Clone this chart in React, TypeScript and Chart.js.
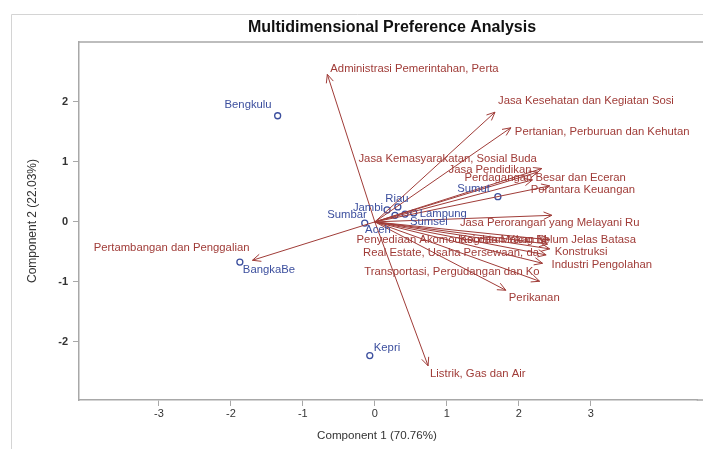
import React, { useEffect, useRef } from "react";
import { Chart, registerables } from "chart.js";

Chart.register(...registerables);

// ---- data ----
const provinceNames = ["Aceh", "Sumut", "Sumbar", "Riau", "Jambi", "Sumsel", "Bengkulu", "Lampung", "BangkaBe", "Kepri"];
const provinceX = [0.28, 1.71, -0.14, 0.32, 0.17, 0.42, -1.35, 0.54, -1.875, -0.07];
const provinceY = [0.11, 0.42, -0.02, 0.25, 0.2, 0.13, 1.77, 0.15, -0.67, -2.23];

const sectorNames = [
  "Administrasi Pemerintahan, Perta",
  "Jasa Kesehatan dan Kegiatan Sosi",
  "Pertanian, Perburuan dan Kehutan",
  "Jasa Kemasyarakatan, Sosial Buda",
  "Jasa Pendidikan",
  "Perdagangan Besar dan Eceran",
  "Perantara Keuangan",
  "Jasa Perorangan yang Melayani Ru",
  "Kegiatan Yang Belum Jelas Batasa",
  "Penyediaan Akomodasi dan Makan M",
  "Konstruksi",
  "Real Estate, Usaha Persewaan, da",
  "Industri Pengolahan",
  "Transportasi, Pergudangan dan Ko",
  "Perikanan",
  "Listrik, Gas dan Air",
  "Pertambangan dan Penggalian",
];
const sectorX = [-0.66, 1.67, 1.89, 2.32, 2.26, 2.19, 2.43, 2.46, 2.43, 2.4, 2.43, 2.38, 2.33, 2.29, 1.82, 0.74, -1.7];
const sectorY = [2.46, 1.83, 1.57, 0.89, 0.83, 0.7, 0.6, 0.11, -0.3, -0.37, -0.45, -0.55, -0.69, -0.99, -1.14, -2.4, -0.64];

const xTicks = [-3, -2, -1, 0, 1, 2, 3];
const yTicks = [-2, -1, 0, 1, 2];

// ---- label layout (pixel offsets from the mark) ----
type Place = [CanvasTextAlign, number, number];
const provinceLabelPlace: Place[] = [
  ["center", -17, 15],
  ["right", -8, -8],
  ["right", 2, -8],
  ["center", -1, -8],
  ["right", -4, -2],
  ["left", 5, 8],
  ["right", -6, -11],
  ["left", 6, 1],
  ["left", 3, 8],
  ["left", 4, -8],
];
const sectorLabelPlace: Place[] = [
  ["left", 3, -5],
  ["left", 3, -11],
  ["left", 4, 4],
  ["right", -5, -10],
  ["right", -6, -2],
  ["left", -68, -2],
  ["left", -19, 4],
  ["left", -92, 8],
  ["left", -90, 0],
  ["left", -191, -4],
  ["left", 5, 3],
  ["left", -183, -2],
  ["left", 9, 2],
  ["right", 0, -9],
  ["left", 3, 8],
  ["left", 2, 8],
  ["right", -3, -12],
];

const RED = "#A03C38";
const BLUE = "#3C4F9E";
const FONT = "'Liberation Sans', Arial, sans-serif";

const overlay = {
  id: "mdpOverlay",
  beforeDraw(chart: any) {
    const ctx = chart.ctx;
    ctx.save();
    ctx.fillStyle = "#fff";
    ctx.fillRect(0, 0, chart.width, chart.height);
    ctx.restore();
  },
  afterDraw(chart: any) {
    const ctx: CanvasRenderingContext2D = chart.ctx;
    const xs = chart.scales.x;
    const ys = chart.scales.y;
    const a = chart.chartArea;
    ctx.save();
    // outer figure frame
    ctx.strokeStyle = "#d4d4d4";
    ctx.lineWidth = 1;
    ctx.beginPath();
    ctx.moveTo(11.5, chart.height);
    ctx.lineTo(11.5, 14.5);
    ctx.lineTo(chart.width, 14.5);
    ctx.stroke();
    // plot frame top and bottom continuation
    ctx.strokeStyle = "#a8a8a8";
    ctx.lineWidth = 1.5;
    ctx.beginPath();
    ctx.moveTo(a.left, a.top);
    ctx.lineTo(chart.width, a.top);
    ctx.moveTo(a.right - 1, a.bottom);
    ctx.lineTo(chart.width, a.bottom);
    ctx.stroke();

    const ox = xs.getPixelForValue(0);
    const oy = ys.getPixelForValue(0);
    // arrowheads + labels
    ctx.strokeStyle = RED;
    ctx.fillStyle = RED;
    ctx.lineWidth = 1;
    ctx.font = `11.3px ${FONT}`;
    ctx.textBaseline = "middle";
    sectorNames.forEach((name, i) => {
      const px = xs.getPixelForValue(sectorX[i]);
      const py = ys.getPixelForValue(sectorY[i]);
      const ang = Math.atan2(py - oy, px - ox);
      const L = 9;
      const h = 0.42;
      ctx.beginPath();
      ctx.moveTo(px - L * Math.cos(ang - h), py - L * Math.sin(ang - h));
      ctx.lineTo(px, py);
      ctx.lineTo(px - L * Math.cos(ang + h), py - L * Math.sin(ang + h));
      ctx.stroke();
      const [al, dx, dy] = sectorLabelPlace[i];
      ctx.textAlign = al;
      ctx.fillText(name, px + dx, py + dy);
    });
    // province labels
    ctx.fillStyle = BLUE;
    provinceNames.forEach((name, i) => {
      const px = xs.getPixelForValue(provinceX[i]);
      const py = ys.getPixelForValue(provinceY[i]);
      const [al, dx, dy] = provinceLabelPlace[i];
      ctx.textAlign = al;
      ctx.fillText(name, px + dx, py + dy);
    });
    // title
    ctx.fillStyle = "#111";
    ctx.textAlign = "center";
    ctx.font = `bold 16px ${FONT}`;
    ctx.fillText("Multidimensional Preference Analysis", 392, 28);
    // axis titles
    ctx.fillStyle = "#333";
    ctx.font = `11.6px ${FONT}`;
    ctx.fillText("Component 1 (70.76%)", 377, 436);
    ctx.translate(33, 221);
    ctx.rotate(-Math.PI / 2);
    ctx.font = `12px ${FONT}`;
    ctx.fillText("Component 2 (22.03%)", 0, 0);
    ctx.restore();
  },
};

export default function App() {
  const ref = useRef<HTMLCanvasElement | null>(null);
  useEffect(() => {
    if (!ref.current) return;
    const vectorSets = sectorNames.map((n, i) => ({
      type: "line" as const,
      label: n,
      data: [
        { x: 0, y: 0 },
        { x: sectorX[i], y: sectorY[i] },
      ],
      borderColor: RED,
      borderWidth: 1,
      pointRadius: 0,
      showLine: true,
      fill: false,
    }));
    const chart = new Chart(ref.current, {
      type: "scatter",
      data: {
        datasets: [
          ...vectorSets,
          {
            type: "scatter" as const,
            label: "Provinsi",
            data: provinceNames.map((_, i) => ({ x: provinceX[i], y: provinceY[i] })),
            borderColor: BLUE,
            backgroundColor: "rgba(0,0,0,0)",
            borderWidth: 1.3,
            pointRadius: 3,
            pointStyle: "circle",
          },
        ] as any,
      },
      options: {
        responsive: false,
        animation: false,
        devicePixelRatio: 1,
        layout: { padding: { left: 0, top: 42, right: 1, bottom: 0 } },
        plugins: { legend: { display: false }, tooltip: { enabled: false }, title: { display: false } },
        scales: {
          x: {
            type: "linear",
            min: -4.11,
            max: 4.486,
            afterBuildTicks: (s: any) => {
              s.ticks = xTicks.map((v) => ({ value: v }));
            },
            afterFit: (s: any) => {
              s.height = 49;
              s.paddingLeft = 0;
              s.paddingRight = 0;
            },
            grid: { display: true, drawOnChartArea: false, drawTicks: true, tickLength: 6, color: "#a8a8a8", lineWidth: 1 },
            border: { display: true, color: "#a8a8a8", width: 1.5 },
            ticks: { color: "#333", font: { size: 11, family: FONT }, padding: 1 },
          },
          y: {
            type: "linear",
            min: -2.97,
            max: 3.0,
            afterBuildTicks: (s: any) => {
              s.ticks = yTicks.map((v) => ({ value: v }));
            },
            afterFit: (s: any) => {
              s.width = 79;
              s.paddingTop = 0;
              s.paddingBottom = 0;
            },
            grid: { display: true, drawOnChartArea: false, drawTicks: true, tickLength: 6, color: "#a8a8a8", lineWidth: 1 },
            border: { display: true, color: "#a8a8a8", width: 1.5 },
            ticks: { color: "#333", font: { size: 11, family: FONT, weight: "bold" }, padding: 5 },
          },
        },
      } as any,
      plugins: [overlay],
    });
    return () => chart.destroy();
  }, []);
  return (
    <div style={{ position: "absolute", left: 0, top: 0, width: 703, height: 449 }}>
      <canvas ref={ref} width={703} height={449} style={{ width: 703, height: 449, display: "block" }} />
    </div>
  );
}
